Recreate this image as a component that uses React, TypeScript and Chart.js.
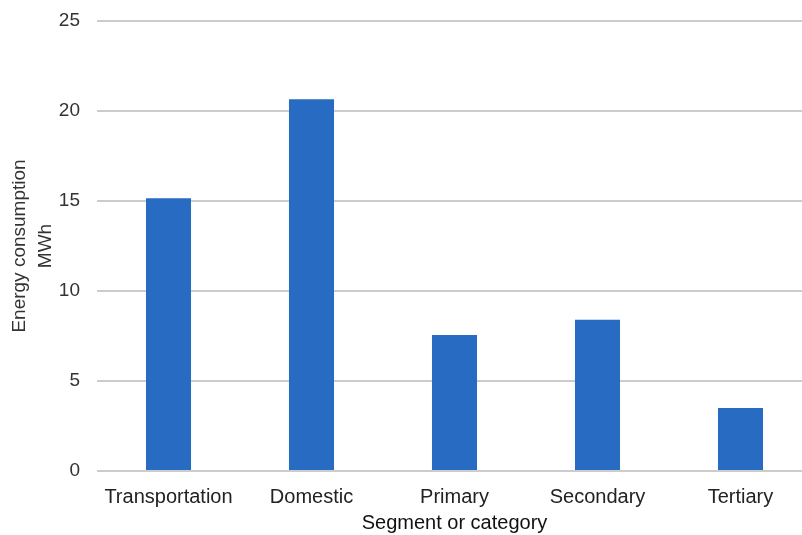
import React, { useEffect, useRef } from "react";
import { Chart, registerables } from "chart.js";

Chart.register(...registerables);

const categories = ["Transportation", "Domestic", "Primary", "Secondary", "Tertiary"];
const consumption = [15.15, 20.65, 7.55, 8.4, 3.5];
const yTitle = ["Energy consumption", "MWh"];
const xTitle = "Segment or category";

export default function App() {
  const ref = useRef<HTMLCanvasElement | null>(null);

  useEffect(() => {
    if (!ref.current) return;
    const family = "'Liberation Sans', Arial, sans-serif";
    const chart = new Chart(ref.current, {
      type: "bar",
      data: {
        labels: categories,
        datasets: [
          {
            data: consumption,
            backgroundColor: "#276bc3",
            borderWidth: 0,
            barPercentage: 0.315,
            categoryPercentage: 1,
          },
        ],
      },
      options: {
        animation: false,
        responsive: false,
        maintainAspectRatio: false,
        layout: { padding: { top: 21, bottom: 0, left: 0, right: 0 } },
        plugins: { legend: { display: false }, tooltip: { enabled: false } },
        scales: {
          x: {
            grid: { display: false },
            border: { display: false },
            ticks: {
              color: "#222",
              font: { family, size: 20 },
              padding: 6,
              maxRotation: 0,
              autoSkip: false,
            },
            title: {
              display: true,
              text: xTitle,
              color: "#111",
              font: { family, size: 20 },
              padding: { top: 0, bottom: 0 },
            },
            afterFit: (s: any) => {
              s.height = 64;
              s.paddingLeft = 0;
              s.paddingRight = 0;
            },
          },
          y: {
            min: 0,
            max: 25,
            ticks: {
              stepSize: 5,
              color: "#333",
              font: { family, size: 19 },
              padding: 17,
            },
            grid: { color: "#cccccc", lineWidth: 2, drawTicks: false },
            border: { display: false },
            title: {
              display: true,
              text: yTitle,
              color: "#333",
              font: { family, size: 19, lineHeight: 1.4 },
              padding: { top: 6, bottom: 0 },
            },
            afterFit: (s: any) => {
              s.width = 97;
              s.paddingTop = 0;
              s.paddingBottom = 0;
            },
          },
        },
      },
    });
    return () => chart.destroy();
  }, []);

  return (
    <div
      style={{
        position: "fixed",
        left: 0,
        top: 0,
        width: 802,
        height: 535,
        overflow: "hidden",
        background: "#fff",
      }}
    >
      <canvas ref={ref} width={812} height={535} style={{ display: "block", width: 812, height: 535 }} />
    </div>
  );
}
